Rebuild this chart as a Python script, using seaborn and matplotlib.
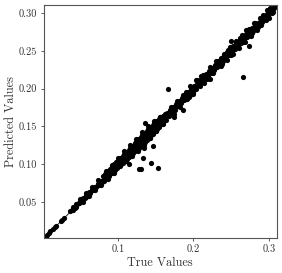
import matplotlib
matplotlib.use('Agg')
import matplotlib.pyplot as plt
import pandas as pd
import seaborn as sns

true_vals = [
    0.004, 0.006, 0.008, 0.010, 0.014, 0.016, 0.018, 0.024, 0.026, 0.028,
    0.037, 0.039, 0.041, 0.043, 0.045, 0.046, 0.048, 0.050, 0.052, 0.054,
    0.056, 0.058, 0.060, 0.062, 0.063, 0.065, 0.067, 0.069, 0.071, 0.073,
    0.075, 0.077, 0.079, 0.080, 0.082, 0.083, 0.085, 0.086, 0.088, 0.089,
    0.091, 0.092, 0.094, 0.095, 0.096, 0.098, 0.099, 0.100, 0.102, 0.103,
    0.104, 0.106, 0.107, 0.108, 0.110, 0.111, 0.112, 0.114, 0.115, 0.116,
    0.118, 0.119, 0.120, 0.122, 0.123, 0.124, 0.126, 0.127, 0.128, 0.130,
    0.131, 0.132, 0.134, 0.135, 0.136, 0.138, 0.139, 0.140, 0.142, 0.143,
    0.144, 0.146, 0.147, 0.148, 0.150, 0.151, 0.152, 0.154, 0.155, 0.156,
    0.158, 0.159, 0.160, 0.162, 0.163, 0.165, 0.167, 0.169, 0.171, 0.173,
    0.175, 0.177, 0.179, 0.181, 0.183, 0.185, 0.187, 0.189, 0.191, 0.193,
    0.195, 0.197, 0.199, 0.201, 0.203, 0.205, 0.207, 0.209, 0.211, 0.213,
    0.215, 0.217, 0.219, 0.221, 0.223, 0.225, 0.227, 0.229, 0.231, 0.233,
    0.235, 0.237, 0.239, 0.241, 0.243, 0.245, 0.247, 0.249, 0.251, 0.253,
    0.255, 0.257, 0.259, 0.261, 0.263, 0.265, 0.267, 0.269, 0.271, 0.273,
    0.275, 0.277, 0.279, 0.281, 0.283, 0.285, 0.287, 0.289, 0.291, 0.293,
    0.295, 0.297, 0.299, 0.301, 0.303, 0.305, 0.307, 0.309,
]
pred_vals = [
    0.004, 0.006, 0.009, 0.011, 0.014, 0.017, 0.018, 0.025, 0.026, 0.029,
    0.038, 0.040, 0.043, 0.042, 0.047, 0.048, 0.049, 0.052, 0.051, 0.055,
    0.055, 0.059, 0.059, 0.063, 0.062, 0.066, 0.066, 0.070, 0.070, 0.074,
    0.073, 0.078, 0.077, 0.085, 0.078, 0.087, 0.082, 0.091, 0.084, 0.094,
    0.088, 0.097, 0.089, 0.100, 0.092, 0.103, 0.095, 0.105, 0.098, 0.108,
    0.100, 0.111, 0.102, 0.113, 0.105, 0.116, 0.107, 0.119, 0.110, 0.121,
    0.113, 0.124, 0.115, 0.128, 0.118, 0.130, 0.120, 0.133, 0.122, 0.136,
    0.124, 0.138, 0.127, 0.141, 0.130, 0.144, 0.132, 0.147, 0.135, 0.149,
    0.138, 0.152, 0.140, 0.155, 0.144, 0.157, 0.146, 0.160, 0.149, 0.162,
    0.153, 0.164, 0.155, 0.167, 0.159, 0.168, 0.164, 0.172, 0.168, 0.176,
    0.172, 0.180, 0.177, 0.184, 0.181, 0.188, 0.185, 0.192, 0.188, 0.195,
    0.192, 0.199, 0.196, 0.204, 0.200, 0.209, 0.205, 0.212, 0.209, 0.216,
    0.213, 0.219, 0.217, 0.223, 0.221, 0.227, 0.225, 0.231, 0.229, 0.235,
    0.232, 0.240, 0.236, 0.244, 0.240, 0.248, 0.244, 0.252, 0.248, 0.257,
    0.252, 0.260, 0.256, 0.264, 0.260, 0.268, 0.263, 0.272, 0.268, 0.276,
    0.272, 0.280, 0.276, 0.284, 0.280, 0.287, 0.284, 0.291, 0.288, 0.295,
    0.292, 0.299, 0.296, 0.303, 0.301, 0.306, 0.306, 0.310,
]
# points filling the middle and the edges of the thick band
band_true = [
    0.040, 0.044, 0.049, 0.053, 0.057, 0.061, 0.066, 0.070, 0.074, 0.078,
    0.081, 0.084, 0.087, 0.090, 0.093, 0.097, 0.101, 0.105, 0.109, 0.113,
    0.117, 0.121, 0.125, 0.129, 0.133, 0.137, 0.141, 0.145, 0.149, 0.153,
    0.157, 0.161, 0.164, 0.168, 0.172, 0.176, 0.180, 0.184, 0.188, 0.192,
    0.196, 0.200, 0.204, 0.208, 0.212, 0.216, 0.220, 0.224, 0.228, 0.232,
    0.236, 0.240, 0.244, 0.248, 0.252, 0.256, 0.260, 0.264, 0.268, 0.272,
    0.276, 0.280, 0.284, 0.288, 0.292, 0.296, 0.300, 0.304,
    0.084, 0.092, 0.100, 0.108, 0.116, 0.124, 0.132, 0.140, 0.148, 0.156,
    0.087, 0.095, 0.103, 0.111, 0.119, 0.127, 0.135, 0.143, 0.151, 0.159,
    0.190, 0.205, 0.212, 0.232, 0.246, 0.262, 0.274, 0.282, 0.292, 0.302,
    0.194, 0.208, 0.218, 0.238, 0.250, 0.266, 0.278, 0.286, 0.296, 0.304,
]
band_pred = [
    0.040, 0.044, 0.049, 0.053, 0.057, 0.061, 0.066, 0.070, 0.074, 0.078,
    0.081, 0.084, 0.087, 0.090, 0.093, 0.097, 0.101, 0.105, 0.109, 0.113,
    0.117, 0.121, 0.125, 0.129, 0.133, 0.137, 0.141, 0.145, 0.149, 0.153,
    0.157, 0.161, 0.164, 0.168, 0.172, 0.176, 0.180, 0.184, 0.188, 0.192,
    0.196, 0.200, 0.204, 0.208, 0.212, 0.216, 0.220, 0.224, 0.228, 0.232,
    0.236, 0.240, 0.244, 0.248, 0.252, 0.256, 0.260, 0.264, 0.268, 0.272,
    0.276, 0.280, 0.284, 0.288, 0.292, 0.296, 0.300, 0.304,
    0.091, 0.099, 0.108, 0.117, 0.126, 0.134, 0.142, 0.150, 0.157, 0.163,
    0.081, 0.089, 0.097, 0.104, 0.111, 0.118, 0.126, 0.135, 0.144, 0.153,
    0.195, 0.211, 0.218, 0.237, 0.251, 0.267, 0.279, 0.287, 0.297, 0.307,
    0.189, 0.203, 0.213, 0.233, 0.245, 0.261, 0.273, 0.281, 0.291, 0.300,
]
# outer edge of the band, upper side then lower side
edge_true = [
    0.050, 0.058, 0.066, 0.074, 0.170, 0.178, 0.186, 0.196, 0.204, 0.210,
    0.222, 0.230, 0.240, 0.248, 0.256, 0.264, 0.270, 0.280, 0.288, 0.298,
    0.054, 0.062, 0.070, 0.078, 0.174, 0.182, 0.192, 0.200, 0.214, 0.226,
    0.236, 0.244, 0.252, 0.260, 0.268, 0.276, 0.284, 0.290, 0.300, 0.306,
]
edge_pred = [
    0.054, 0.062, 0.070, 0.079, 0.176, 0.184, 0.192, 0.203, 0.212, 0.217,
    0.228, 0.236, 0.246, 0.255, 0.263, 0.271, 0.277, 0.287, 0.294, 0.304,
    0.050, 0.058, 0.066, 0.073, 0.167, 0.176, 0.186, 0.193, 0.208, 0.220,
    0.230, 0.238, 0.246, 0.254, 0.262, 0.270, 0.278, 0.284, 0.294, 0.301,
]
outlier_true = [0.2497, 0.273, 0.265, 0.166, 0.186, 0.1746, 0.136, 0.222,
                0.146, 0.1437, 0.1526, 0.130, 0.135, 0.133, 0.1146, 0.128]
outlier_pred = [0.263, 0.256, 0.2153, 0.200, 0.172, 0.162, 0.1545, 0.2127,
                0.124, 0.102, 0.0946, 0.0937, 0.1214, 0.1086, 0.100, 0.094]

x_ticks = [0.1, 0.2, 0.3]
y_ticks = [0.05, 0.10, 0.15, 0.20, 0.25, 0.30]

sns.set_style('white')
plt.rcParams['font.family'] = ['cmr10', 'DejaVu Serif']
plt.rcParams['axes.formatter.use_mathtext'] = True
plt.rcParams['axes.unicode_minus'] = False

df = pd.DataFrame({'true': true_vals + band_true + edge_true + outlier_true,
                   'pred': pred_vals + band_pred + edge_pred + outlier_pred})

fig = plt.figure(figsize=(2.82, 2.73), dpi=100)
ax = fig.add_axes([44 / 282, 1 - 238 / 273, 232.5 / 282, 233 / 273])
sns.lineplot(x=[0.0, 0.31], y=[0.0, 0.31], color='black', linewidth=0.6, ax=ax)
sns.scatterplot(data=df, x='true', y='pred', color='black', s=14, linewidth=0, ax=ax)

ax.set_xlim(0.002, 0.31)
ax.set_ylim(0.0024, 0.3106)
ax.set_xticks(x_ticks)
ax.set_xticklabels(['0.1', '0.2', '0.3'])
ax.set_yticks(y_ticks)
ax.set_yticklabels(['0.05', '0.10', '0.15', '0.20', '0.25', '0.30'])
ax.tick_params(left=True, bottom=True, length=2, width=0.6, color='#444444',
               labelsize=7.5, labelcolor='#333333', pad=3)
ax.set_xlabel('True Values', fontsize=8.8, color='#333333', labelpad=2)
ax.set_ylabel('Predicted Values', fontsize=8.8, color='#333333', labelpad=1)
for side in ax.spines.values():
    side.set_color('#555555')
    side.set_linewidth(0.8)

plt.savefig('out.png', dpi=100)
